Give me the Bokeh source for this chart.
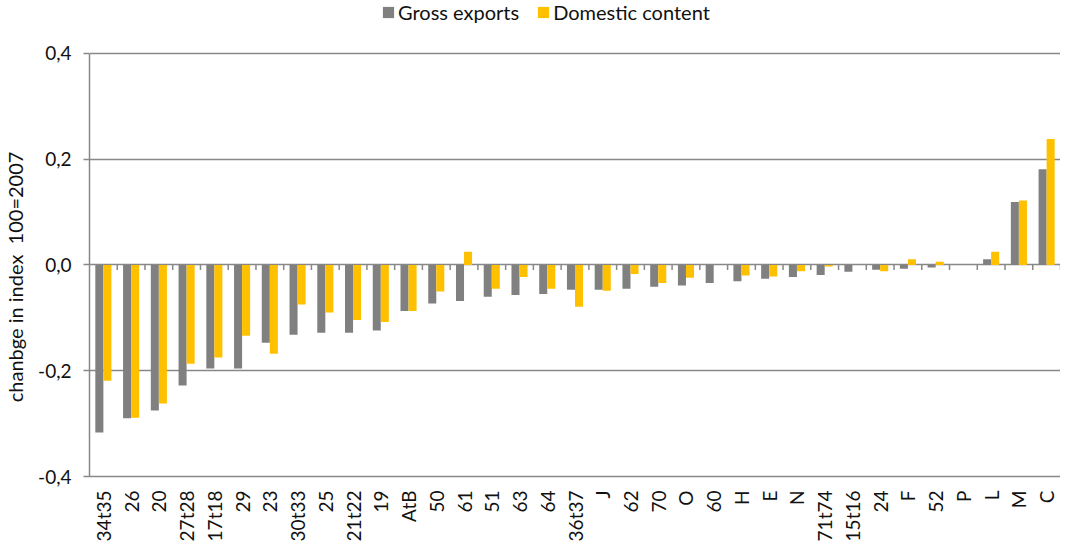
from bokeh.plotting import figure
from bokeh.models import (FactorRange, Range1d, FixedTicker, CustomJSTickFormatter,
                          Legend, LegendItem, ColumnDataSource)
from bokeh.transform import dodge
from bokeh.embed import file_html
from bokeh.resources import INLINE
import math

categories = ["34t35", "26", "20", "27t28", "17t18", "29", "23", "30t33", "25", "21t22",
              "19", "AtB", "50", "61", "51", "63", "64", "36t37", "J", "62",
              "70", "O", "60", "H", "E", "N", "71t74", "15t16", "24", "F",
              "52", "P", "L", "M", "C"]
gross_exports = [-0.317, -0.290, -0.275, -0.228, -0.196, -0.196, -0.147, -0.132, -0.128, -0.128,
                 -0.124, -0.087, -0.073, -0.068, -0.060, -0.057, -0.055, -0.047, -0.047, -0.045,
                 -0.041, -0.039, -0.034, -0.031, -0.026, -0.023, -0.019, -0.013, -0.009, -0.007,
                 -0.005, 0.0, 0.011, 0.119, 0.181]
domestic_content = [-0.219, -0.289, -0.262, -0.187, -0.175, -0.134, -0.168, -0.075, -0.090, -0.104,
                    -0.108, -0.087, -0.050, 0.025, -0.045, -0.023, -0.045, -0.079, -0.049, -0.017,
                    -0.034, -0.024, 0.0, -0.020, -0.022, -0.012, -0.003, 0.0, -0.012, 0.011,
                    0.006, 0.0, 0.025, 0.122, 0.238]
y_ticks = [-0.4, -0.2, 0.0, 0.2, 0.4]
y_title = "chanbge in index\u00a0\u00a0100=2007"

GRAY = "#808080"
GOLD = "#FFC000"
GRID = "#888888"
TEXT = "#111111"
FONT = "Lato"

src = ColumnDataSource(dict(cat=categories, gross=gross_exports, dom=domestic_content))

# the frame extends above 0,4 to leave room for the legend at the top
p = figure(x_range=FactorRange(*categories, range_padding=0),
           y_range=Range1d(-0.4, 0.5),
           width=1060, height=544, output_backend="svg", toolbar_location=None,
           min_border_left=84, min_border_right=0, min_border_top=0, min_border_bottom=67)

r1 = p.vbar(x=dodge("cat", -0.145, range=p.x_range), top="gross", width=0.29,
            source=src, fill_color=GRAY, line_color=None)
r2 = p.vbar(x=dodge("cat", 0.145, range=p.x_range), top="dom", width=0.29,
            source=src, fill_color=GOLD, line_color=None)

# tick marks between categories on the zero line
bounds = list(range(1, len(categories) + 1))
p.segment(x0=bounds, y0=[0.0] * len(bounds), x1=bounds, y1=[-0.0095] * len(bounds),
          line_color=GRID, line_width=1.5)

p.outline_line_color = None
p.xgrid.grid_line_color = None
p.ygrid.grid_line_color = GRID
p.ygrid.grid_line_width = 1.5
p.ygrid.ticker = FixedTicker(ticks=y_ticks)

p.yaxis.bounds = (-0.4, 0.4)
p.yaxis.ticker = FixedTicker(ticks=y_ticks)
p.yaxis.formatter = CustomJSTickFormatter(code="return tick.toFixed(1).replace('.', ',');")
p.yaxis.axis_line_color = GRID
p.yaxis.axis_line_width = 1.5
p.yaxis.major_tick_line_color = GRID
p.yaxis.major_tick_line_width = 1.5
p.yaxis.major_tick_out = 6
p.yaxis.major_tick_in = 0
p.yaxis.minor_tick_line_color = None
p.yaxis.major_label_text_font = FONT
p.yaxis.major_label_text_font_size = "19px"
p.yaxis.major_label_text_color = TEXT
p.yaxis.major_label_standoff = 12
# trailing no-break spaces keep the visible title centred on the 0,0 line like the original
p.yaxis.axis_label = y_title + "\u00a0" * 15
p.yaxis.axis_label_text_font = FONT
p.yaxis.axis_label_text_font_size = "20px"
p.yaxis.axis_label_text_font_style = "normal"
p.yaxis.axis_label_text_color = TEXT
p.yaxis.axis_label_standoff = 8

p.xaxis.axis_line_color = GRID
p.xaxis.axis_line_width = 1.5
p.xaxis.major_tick_line_color = None
p.xaxis.minor_tick_line_color = None
p.xaxis.major_label_orientation = math.pi / 2
p.xaxis.major_label_text_font = FONT
p.xaxis.major_label_text_font_size = "19px"
p.xaxis.major_label_text_color = TEXT
p.xaxis.major_label_standoff = 8

legend = Legend(items=[LegendItem(label="Gross exports", renderers=[r1]),
                       LegendItem(label="Domestic content", renderers=[r2])],
                orientation="horizontal", location=(292, 452),
                label_text_font=FONT, label_text_font_size="20px", label_text_color=TEXT,
                glyph_width=14, glyph_height=14, label_standoff=3, spacing=17,
                padding=2, margin=0, border_line_color=None, background_fill_alpha=0)
p.add_layout(legend, "center")

open("out.html", "w").write(file_html(p, INLINE))
